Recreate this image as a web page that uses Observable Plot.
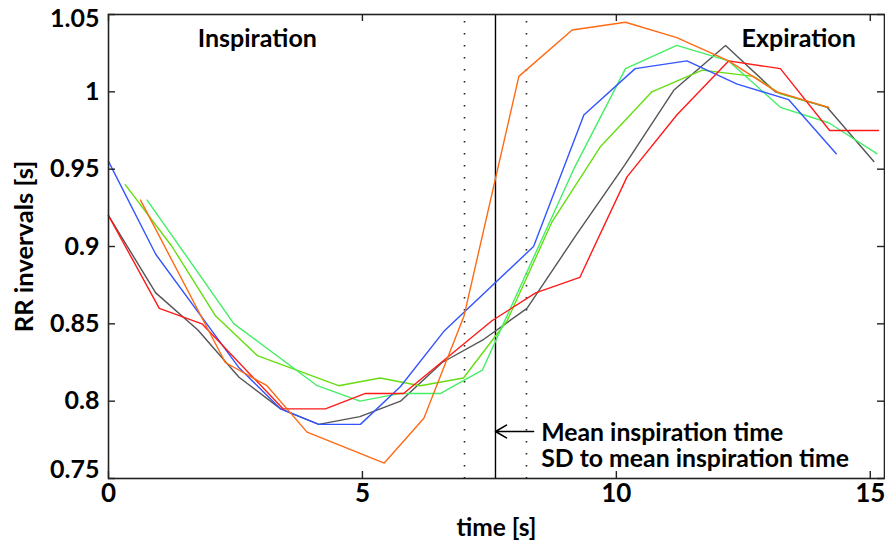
<!DOCTYPE html>
<html>
<head>
<meta charset="utf-8">
<script src="https://cdn.jsdelivr.net/npm/d3@7"></script>
<script src="https://cdn.jsdelivr.net/npm/@observablehq/plot@0.6"></script>
<style>
  html, body { margin: 0; padding: 0; background: #fff; }
  svg { display: block; }
</style>
</head>
<body>
<div id="chart"></div>
<script>
// ---- data ----
const xTicks = [0, 5, 10, 15];
const yTicks = [0.75, 0.8, 0.85, 0.9, 0.95, 1.0, 1.05];

const redT  = [0, 1.00, 1.84, 3.44, 4.27, 5.06, 5.81, 7.55, 8.41, 9.28, 10.21, 11.19, 12.21, 13.23, 14.20, 15.16];
const redV  = [0.92, 0.86, 0.85, 0.795, 0.795, 0.805, 0.805, 0.852, 0.870, 0.880, 0.945, 0.985, 1.020, 1.015, 0.975, 0.975];

const grayT = [0, 0.93, 1.76, 2.57, 3.39, 4.14, 4.95, 5.75, 6.57, 7.39, 8.24, 9.20, 10.17, 11.13, 12.15, 13.13, 14.15, 15.07];
const grayV = [0.92, 0.87, 0.846, 0.8155, 0.795, 0.785, 0.79, 0.80, 0.825, 0.840, 0.860, 0.907, 0.953, 1.001, 1.030, 1.000, 0.990, 0.955];

const blueT = [0, 0.93, 2.56, 3.39, 4.14, 4.96, 5.75, 6.60, 8.37, 9.36, 10.37, 11.39, 12.38, 13.39, 14.33];
const blueV = [0.955, 0.895, 0.822, 0.795, 0.785, 0.785, 0.8095, 0.845, 0.900, 0.985, 1.015, 1.020, 1.005, 0.995, 0.960];

const orangeT = [0.63, 2.30, 3.12, 3.91, 5.43, 6.21, 7.00, 8.08, 9.13, 10.18, 11.19, 12.21, 13.16, 14.18];
const orangeV = [0.93, 0.825, 0.810, 0.780, 0.760, 0.789, 0.855, 1.010, 1.040, 1.045, 1.035, 1.020, 1.000, 0.990];

const limeT = [0.33, 1.25, 2.11, 2.93, 4.53, 5.35, 6.14, 6.99, 7.85, 8.73, 9.69, 10.70, 11.69, 12.70, 13.23, 14.18];
const limeV = [0.94, 0.90, 0.855, 0.8295, 0.810, 0.815, 0.810, 0.815, 0.852, 0.9157, 0.9647, 1.000, 1.014, 1.010, 0.9987, 0.990];

const mintT = [0.76, 2.47, 4.11, 4.95, 5.75, 6.54, 7.36, 9.16, 10.18, 11.19, 12.21, 13.23, 14.18, 15.13];
const mintV = [0.93, 0.85, 0.81, 0.80, 0.805, 0.805, 0.82, 0.95, 1.015, 1.030, 1.020, 0.990, 0.980, 0.960];

const meanInsp = 7.62;
const sdInsp = 0.61;

const xLabel = "time [s]";
const yLabel = "RR invervals [s]";
const phaseLabels = ["Inspiration", "Expiration"];
const phaseT = [2.93, 13.59];
const phaseV = 1.034;
const noteText = "Mean inspiration time\nSD to mean inspiration time";
const noteT = 8.52;
const noteV = 0.7712;
const arrowFromT = 8.37;
const arrowV = 0.7804;

// ---- build ----
const zip = (T, V) => T.map((t, i) => ({t, v: V[i]}));
const series = [
  {data: zip(grayT, grayV), color: "#555555"},
  {data: zip(limeT, limeV), color: "#66dd11"},
  {data: zip(mintT, mintV), color: "#44ee66"},
  {data: zip(blueT, blueV), color: "#3355ff"},
  {data: zip(redT, redV), color: "#ff1a1a"},
  {data: zip(orangeT, orangeV), color: "#ff6a15"}
];

const mL = 108, mR = 1, mT = 14, mB = 72, W = 885, H = 550;
const plotW = W - mL - mR, plotH = H - mT - mB;
const tick = 7;
const font = "Lato, 'Open Sans', sans-serif";
const yFmt = d => String(+d.toFixed(2));
const yMin = yTicks[0], yMax = yTicks[yTicks.length - 1];
const yInner = yTicks.filter(d => d !== yMin && d !== yMax);
const yAxisOpts = {tickSize: 0, tickPadding: 9, label: null, fontSize: 25, tickFormat: yFmt};

const plot = Plot.plot({
  width: W, height: H,
  marginLeft: mL, marginRight: mR, marginTop: mT, marginBottom: mB,
  style: {fontFamily: font, fontSize: "25px", fontWeight: "bold", background: "#fff", color: "#000", overflow: "visible"},
  x: {domain: [0, 15.28]},
  y: {domain: [yMin, yMax]},
  marks: [
    Plot.ruleX([meanInsp - sdInsp, meanInsp + sdInsp], {stroke: "#222", strokeWidth: 1.6, strokeDasharray: "1.6,10.4", strokeDashoffset: -7}),
    Plot.ruleX([meanInsp], {stroke: "#000", strokeWidth: 1.4}),
    ...series.map(s => Plot.line(s.data, {x: "t", y: "v", stroke: s.color, strokeWidth: 1.4})),
    Plot.frame({stroke: "#222", strokeWidth: 1.6}),
    Plot.tickX(xTicks, {x: d => d, insetTop: plotH - tick, stroke: "#222", strokeWidth: 1.4}),
    Plot.tickX(xTicks, {x: d => d, insetBottom: plotH - tick, stroke: "#222", strokeWidth: 1.4}),
    Plot.tickY(yTicks, {y: d => d, insetRight: plotW - tick, stroke: "#222", strokeWidth: 1.4}),
    Plot.tickY(yTicks, {y: d => d, insetLeft: plotW - tick, stroke: "#222", strokeWidth: 1.4}),
    Plot.axisX({ticks: xTicks, tickSize: 0, tickPadding: 5, label: null, fontSize: 26, tickFormat: d => String(d)}),
    Plot.axisY({...yAxisOpts, ticks: yInner}),
    Plot.axisY({...yAxisOpts, ticks: [yMax], dy: 4}),
    Plot.axisY({...yAxisOpts, ticks: [yMin], dy: -9}),
    Plot.text([xLabel], {frameAnchor: "bottom", dy: 57, text: d => d, fontSize: 24.5}),
    Plot.text([yLabel], {frameAnchor: "left", textAnchor: "middle", dx: -84, rotate: -90, text: d => d, fontSize: 25.5}),
    Plot.text(phaseLabels, {x: (d, i) => phaseT[i], y: phaseV, text: d => d, fontSize: 25}),
    Plot.arrow([0], {x1: arrowFromT, x2: meanInsp, y1: arrowV, y2: arrowV, stroke: "#000", strokeWidth: 1.6, headLength: 12, bend: 0}),
    Plot.text([noteText], {x: noteT, y: noteV, text: d => d, textAnchor: "start", lineHeight: 1.06, fontSize: 24.8})
  ]
});
document.getElementById("chart").appendChild(plot);
</script>
</body>
</html>
